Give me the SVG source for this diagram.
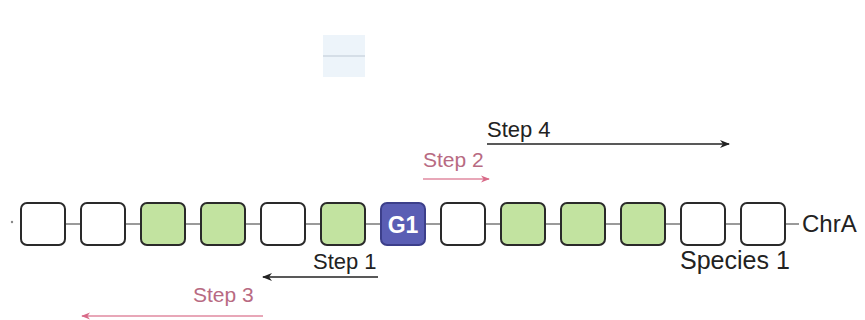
<svg xmlns="http://www.w3.org/2000/svg" width="865" height="320" viewBox="0 0 865 320">
<defs>
<style>
.box{stroke:#2a2a2a;stroke-width:2;}
.w{fill:#ffffff;}
.g{fill:#c2e3a0;}
.lbl{font-family:"Liberation Sans",Arial,sans-serif;fill:#222;}
.pk{font-family:"Liberation Sans",Arial,sans-serif;fill:#b86a82;}
.chr{stroke:#9a9a9a;stroke-width:2;fill:none;}
.arr{stroke:#222;stroke-width:1.5;fill:none;}
.parr{stroke:#e08aa0;stroke-width:1.5;fill:none;}
</style>
<marker id="ah" viewBox="0 0 10 10" refX="9" refY="5" markerWidth="10" markerHeight="10" orient="auto-start-reverse" markerUnits="userSpaceOnUse">
<path d="M0,1 L10,5 L0,9 L3,5 Z" fill="#222"/>
</marker>
<marker id="pah" viewBox="0 0 10 10" refX="9" refY="5" markerWidth="9" markerHeight="9" orient="auto-start-reverse" markerUnits="userSpaceOnUse">
<path d="M0,1 L10,5 L0,9 L3,5 Z" fill="#d86a88"/>
</marker>
</defs>
<rect width="865" height="320" fill="#ffffff"/>
<g id="ghost">
<rect x="323" y="35" width="42" height="42" fill="#edf4fa"/>
<line x1="323" y1="56" x2="365" y2="56" stroke="#cdd7e0" stroke-width="1.5"/>
</g>
<g id="connectors">
<line class="chr" x1="65" y1="224" x2="81" y2="224"/>
<line class="chr" x1="125" y1="224" x2="141" y2="224"/>
<line class="chr" x1="185" y1="224" x2="201" y2="224"/>
<line class="chr" x1="245" y1="224" x2="261" y2="224"/>
<line class="chr" x1="305" y1="224" x2="321" y2="224"/>
<line class="chr" x1="365" y1="224" x2="381" y2="224"/>
<line class="chr" x1="425" y1="224" x2="441" y2="224"/>
<line class="chr" x1="485" y1="224" x2="501" y2="224"/>
<line class="chr" x1="545" y1="224" x2="561" y2="224"/>
<line class="chr" x1="605" y1="224" x2="621" y2="224"/>
<line class="chr" x1="665" y1="224" x2="681" y2="224"/>
<line class="chr" x1="725" y1="224" x2="741" y2="224"/>
<line class="chr" x1="785" y1="224" x2="799" y2="224"/>
<circle cx="12" cy="222" r="1.2" fill="#888"/>
<line class="arr" x1="378" y1="277" x2="263" y2="277" marker-end="url(#ah)"/>
<line class="arr" x1="487" y1="144" x2="729" y2="144" marker-end="url(#ah)"/>
<line class="parr" x1="423" y1="179" x2="489" y2="179" marker-end="url(#pah)"/>
<line class="parr" x1="263" y1="316" x2="82" y2="316" marker-end="url(#pah)"/>
</g>
<g id="n1"><rect class="box w" x="21" y="203" width="44" height="42" rx="6"/></g>
<g id="n2"><rect class="box w" x="81" y="203" width="44" height="42" rx="6"/></g>
<g id="n3"><rect class="box g" x="141" y="203" width="44" height="42" rx="6"/></g>
<g id="n4"><rect class="box g" x="201" y="203" width="44" height="42" rx="6"/></g>
<g id="n5"><rect class="box w" x="261" y="203" width="44" height="42" rx="6"/></g>
<g id="n6"><rect class="box g" x="321" y="203" width="44" height="42" rx="6"/></g>
<g id="n7"><rect x="381" y="203" width="44" height="42" rx="6" fill="#5a5eb4" stroke="#3c3f8a" stroke-width="2"/>
<text x="403" y="233" text-anchor="middle" font-family="Liberation Sans,Arial,sans-serif" font-weight="bold" font-size="23" fill="#ffffff">G1</text></g>
<g id="n8"><rect class="box w" x="441" y="203" width="44" height="42" rx="6"/></g>
<g id="n9"><rect class="box g" x="501" y="203" width="44" height="42" rx="6"/></g>
<g id="n10"><rect class="box g" x="561" y="203" width="44" height="42" rx="6"/></g>
<g id="n11"><rect class="box g" x="621" y="203" width="44" height="42" rx="6"/></g>
<g id="n12"><rect class="box w" x="681" y="203" width="44" height="42" rx="6"/></g>
<g id="n13"><rect class="box w" x="741" y="203" width="44" height="42" rx="6"/></g>
<g id="labels">
<text class="lbl" x="802" y="232" font-size="24">ChrA</text>
<text class="lbl" x="680" y="269" font-size="25">Species 1</text>
<text class="lbl" x="313" y="269" font-size="22">Step 1</text>
<text class="lbl" x="487" y="137" font-size="22">Step 4</text>
<text class="pk" x="423" y="167" font-size="21">Step 2</text>
<text class="pk" x="193" y="302" font-size="21">Step 3</text>
</g>
</svg>
